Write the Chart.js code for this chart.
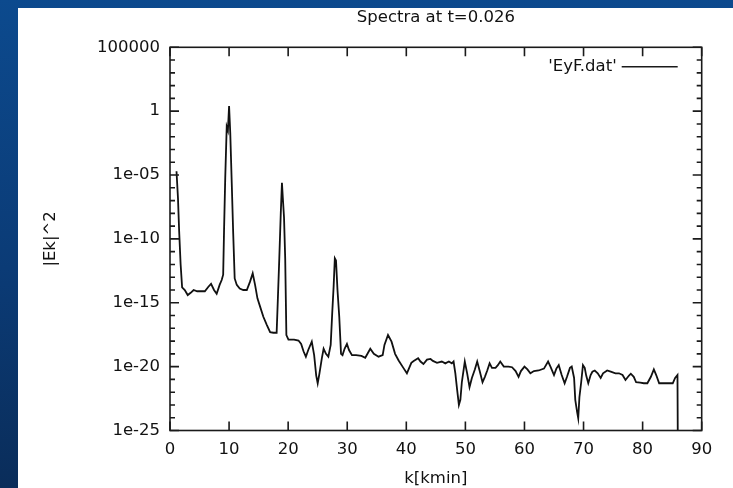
<!DOCTYPE html>
<html>
<head>
<meta charset="utf-8">
<title>Spectra at t=0.026</title>
<script src="https://cdn.jsdelivr.net/npm/chart.js@4.4.1/dist/chart.umd.min.js"></script>
<style>
  html, body { margin: 0; padding: 0; width: 733px; height: 488px; overflow: hidden; }
  body { background: linear-gradient(to bottom, #0c4a8e 0%, #0b3b76 55%, #0a2d5a 100%); }
  #panel { position: absolute; left: 18px; top: 8px; width: 715px; height: 480px; background: #fff; }
</style>
</head>
<body>
<div id="panel"><canvas id="spectrum" width="715" height="480"></canvas></div>
<script>
// k values (units of kmin)
const kValues = [
    1.1, 1.35, 1.55, 1.8, 2.05, 2.5, 3.0, 3.5, 4.0, 4.6,
    5.3, 5.9, 6.5, 6.95, 7.45, 7.9, 8.4, 8.75, 9.0, 9.15,
    9.35, 9.6, 9.8, 10.0, 10.2, 10.45, 10.7, 10.95, 11.3, 11.8,
    12.4, 13.0, 13.55, 14.0, 14.4, 14.8, 15.25, 15.8, 16.4, 16.95,
    17.5, 18.05, 18.25, 18.5, 18.75, 18.95, 19.1, 19.3, 19.5, 19.7,
    20.05, 21.0, 21.75, 22.2, 22.6, 23.0, 23.4, 24.0, 24.4, 24.75,
    25.0, 25.3, 25.7, 26.0, 26.4, 26.8, 27.2, 27.45, 27.7, 27.9,
    28.1, 28.35, 28.65, 28.95, 29.2, 29.55, 29.95, 30.3, 30.8, 31.5,
    32.4, 33.05, 33.9, 34.5, 35.3, 36.0, 36.3, 36.9, 37.5, 38.1,
    38.7, 39.5, 40.1, 40.85, 41.25, 42.0, 42.4, 42.9, 43.5, 44.1,
    44.5, 45.2, 46.0, 46.6, 47.2, 47.7, 48.0, 48.3, 48.6, 48.9,
    49.15, 49.4, 49.9, 50.3, 50.7, 51.1, 51.6, 52.0, 52.4, 52.9,
    53.3, 53.7, 54.1, 54.5, 55.1, 55.5, 55.9, 56.5, 57.3, 57.9,
    58.5, 59.0, 59.4, 60.0, 60.5, 61.0, 61.6, 62.4, 63.3, 64.0,
    64.4, 65.0, 65.4, 65.8, 66.3, 66.8, 67.2, 67.7, 68.0, 68.4,
    68.6, 68.9, 69.1, 69.3, 69.6, 69.9, 70.2, 70.45, 70.8, 71.2,
    71.5, 71.9, 72.4, 72.9, 73.3, 74.0, 74.6, 75.4, 76.0, 76.6,
    77.1, 77.7, 78.0, 78.5, 78.9, 79.6, 80.2, 80.8, 81.4, 81.9,
    82.3, 82.8, 83.6, 84.7, 85.1, 85.5, 85.9, 86.0
];
// |Ek|^2 at each k
const ekValues = [
    2e-5, 1.6e-7, 4e-10, 1e-12, 1.6e-14, 1e-14, 4e-15, 6e-15, 1e-14, 8e-15,
    8e-15, 8e-15, 1.8e-14, 3e-14, 1e-14, 5e-15, 2.5e-14, 6e-14, 1.6e-13, 5e-10,
    6e-6, 6e-2, 3e-2, 2.5, 2e-2, 2.5e-6, 2.5e-10, 8e-14, 2.5e-14, 1.3e-14,
    1e-14, 1e-14, 4.5e-14, 2e-13, 2.5e-14, 2.2e-15, 5e-16, 8e-17, 1.8e-17, 5e-18,
    4.5e-18, 4.5e-18, 1.6e-15, 3e-12, 1e-8, 2.5e-6, 1.6e-7, 5e-9, 3e-12, 3e-18,
    1.3e-18, 1.3e-18, 1.1e-18, 6e-19, 1.6e-19, 6e-20, 2e-19, 9e-19, 8e-20, 2e-21,
    5e-22, 3e-21, 4.5e-20, 2.5e-19, 1e-19, 6e-20, 5e-19, 1.3e-16, 2e-14, 3e-12,
    2e-12, 1e-14, 8e-17, 1e-19, 8e-20, 2.5e-19, 6e-19, 2e-19, 8e-20, 8e-20,
    7e-20, 5e-20, 2.5e-19, 1e-19, 6e-20, 8e-20, 5e-19, 3e-18, 9e-19, 1e-19,
    3e-20, 8e-21, 3e-21, 2e-20, 2.8e-20, 4.5e-20, 2.5e-20, 1.6e-20, 3.5e-20, 4e-20,
    2.8e-20, 2e-20, 2.5e-20, 1.8e-20, 2.5e-20, 1.8e-20, 2.5e-20, 3e-21, 1.6e-22, 1e-23,
    2.5e-23, 6e-22, 2.5e-20, 3e-21, 2.5e-22, 1.3e-21, 6e-21, 2.5e-20, 5e-21, 6e-22,
    1.6e-21, 5e-21, 1.8e-20, 8e-21, 8e-21, 1.3e-20, 2.5e-20, 1e-20, 1e-20, 9e-21,
    4.5e-21, 1.6e-21, 4.5e-21, 1e-20, 6e-21, 3e-21, 4.5e-21, 5e-21, 7e-21, 2.5e-20,
    1e-20, 2.2e-21, 7e-21, 1.3e-20, 2.2e-21, 5e-22, 1.6e-21, 8e-21, 1e-20, 1.3e-21,
    2.5e-23, 3e-24, 9e-25, 4e-23, 6e-22, 1.3e-20, 8e-21, 2e-21, 5e-22, 2.2e-21,
    4e-21, 5e-21, 3e-21, 1.3e-21, 3e-21, 5e-21, 4e-21, 3e-21, 3e-21, 2.2e-21,
    9e-22, 2e-21, 2.8e-21, 1.6e-21, 6e-22, 5.5e-22, 5e-22, 5e-22, 1.6e-21, 6e-21,
    2.2e-21, 5e-22, 5e-22, 5e-22, 5e-22, 1.3e-21, 2.2e-21, 1e-30
];
const xTickValues = [0, 10, 20, 30, 40, 50, 60, 70, 80, 90];
const yTickValues = [1e-25, 1e-20, 1e-15, 1e-10, 1e-5, 1, 1e5];
const yTickLabels = ['1e-25', '1e-20', '1e-15', '1e-10', '1e-05', '1', '100000'];
const seriesLabel = "'EyF.dat'";

const FONT = "'DejaVu Sans', sans-serif";
const INK = '#111';

Chart.defaults.font.family = FONT;
Chart.defaults.font.size = 16.5;
Chart.defaults.color = INK;

// gnuplot style frame: border on four sides, ticks pointing inwards, key in the corner
const gnuplotFrame = {
    id: 'gnuplotFrame',
    afterDatasetsDraw(chart) {
        const { ctx, chartArea: a, scales: { x, y } } = chart;
        const major = 9, minor = 5;
        ctx.save();
        ctx.strokeStyle = '#1a1a1a';
        ctx.lineWidth = 1.6;
        ctx.beginPath();
        xTickValues.forEach(v => {
            const px = x.getPixelForValue(v);
            ctx.moveTo(px, a.bottom); ctx.lineTo(px, a.bottom - major);
            ctx.moveTo(px, a.top); ctx.lineTo(px, a.top + major);
        });
        for (let e = -25; e <= 5; e++) {
            const py = y.getPixelForValue(Math.pow(10, e));
            const len = (e % 5 === 0) ? major : minor;
            ctx.moveTo(a.left, py); ctx.lineTo(a.left + len, py);
            ctx.moveTo(a.right, py); ctx.lineTo(a.right - len, py);
        }
        ctx.stroke();
        ctx.strokeRect(a.left, a.top, a.width, a.height);

        // key
        const ly = a.top + 19.5;
        ctx.font = '16.5px ' + FONT;
        ctx.fillStyle = INK;
        ctx.textAlign = 'right';
        ctx.textBaseline = 'middle';
        ctx.fillText(seriesLabel, a.right - 85, ly);
        ctx.beginPath();
        ctx.moveTo(a.right - 80, ly);
        ctx.lineTo(a.right - 24, ly);
        ctx.stroke();
        ctx.restore();
    }
};

new Chart(document.getElementById('spectrum'), {
    type: 'line',
    data: {
        datasets: [{
            label: seriesLabel,
            data: kValues.map((k, i) => ({ x: k, y: ekValues[i] })),
            borderColor: INK,
            borderWidth: 1.8,
            pointRadius: 0,
            tension: 0,
            fill: false
        }]
    },
    options: {
        responsive: false,
        animation: false,
        layout: { padding: { left: 0, top: 0, right: 31.3, bottom: 0 } },
        plugins: {
            legend: { display: false },
            tooltip: { enabled: false },
            title: {
                display: true,
                text: 'Spectra at t=0.026',
                fullSize: false,
                color: INK,
                font: { size: 16.5, weight: 'normal' },
                padding: { top: 0, bottom: 19.5 }
            }
        },
        scales: {
            x: {
                type: 'linear',
                min: 0,
                max: 90,
                grid: { display: false, drawTicks: false },
                border: { display: false },
                ticks: { stepSize: 10, padding: 9, color: INK },
                title: { display: true, text: 'k[kmin]', color: INK, padding: { top: 0, bottom: -1 } },
                afterFit(scale) { scale.height = 57.5; }
            },
            y: {
                type: 'logarithmic',
                min: 1e-25,
                max: 1e5,
                grid: { display: false, drawTicks: false },
                border: { display: false },
                ticks: {
                    autoSkip: false,
                    padding: 10,
                    color: INK,
                    callback: (value, index) => yTickLabels[index]
                },
                afterBuildTicks(scale) {
                    scale.ticks = yTickValues.map(v => ({ value: v }));
                },
                title: { display: true, text: '|Ek|^2', color: INK, padding: { top: 23, bottom: 0 } },
                afterFit(scale) { scale.width = 152; }
            }
        }
    },
    plugins: [gnuplotFrame]
});
</script>
</body>
</html>
